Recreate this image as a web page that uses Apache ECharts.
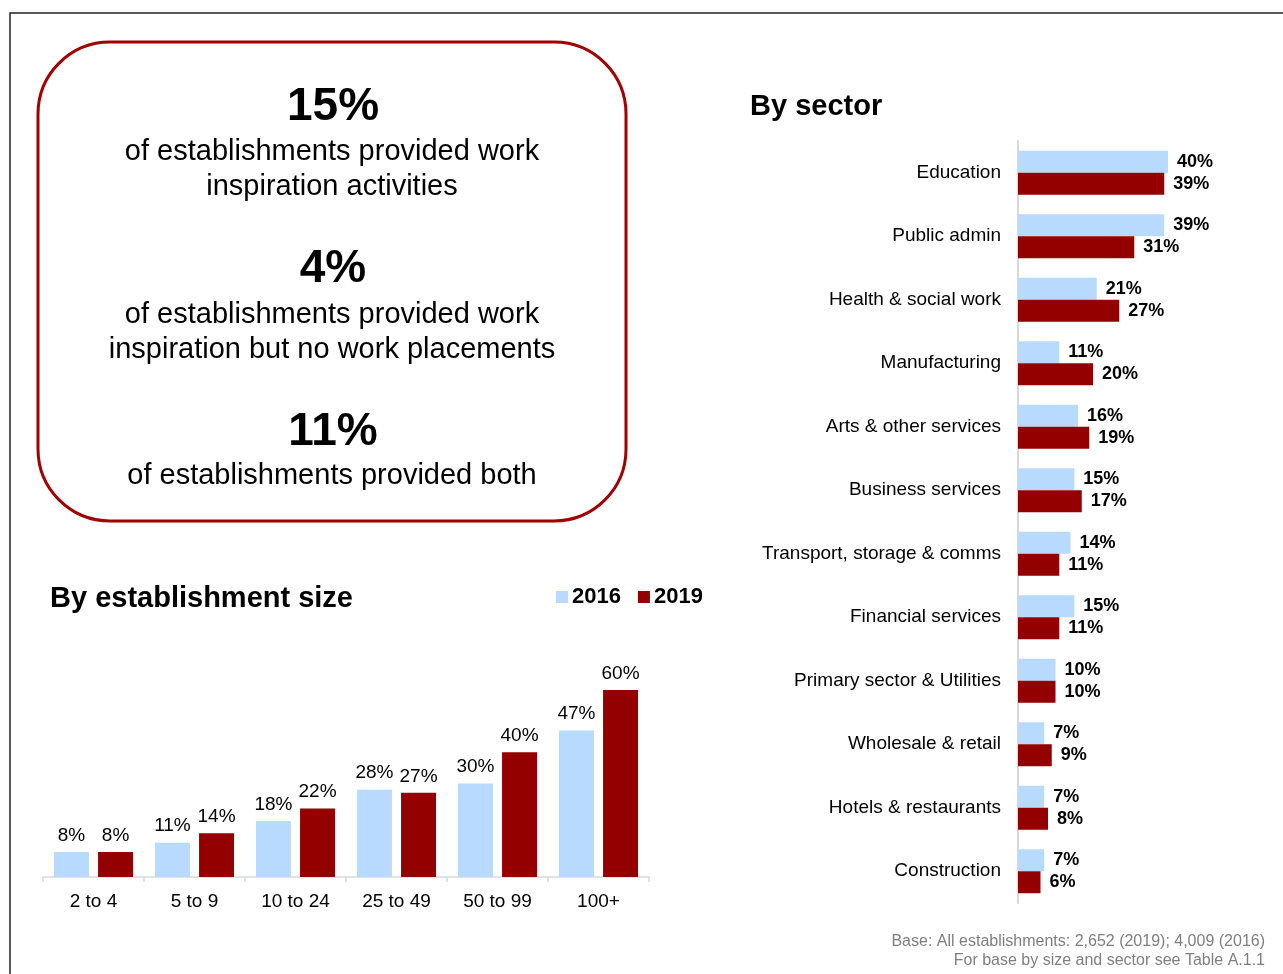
<!DOCTYPE html>
<html>
<head>
<meta charset="utf-8">
<script src="https://cdn.jsdelivr.net/npm/echarts@6/dist/echarts.min.js"></script>
<style>
html,body{margin:0;padding:0;background:#fff;}
#chart{width:1283px;height:974px;}
</style>
</head>
<body>
<div id="chart"></div>
<script>
// ---- Data ----
var sizeCategories = ['2 to 4', '5 to 9', '10 to 24', '25 to 49', '50 to 99', '100+'];
var size2016 = [8, 11, 18, 28, 30, 47];
var size2019 = [8, 14, 22, 27, 40, 60];

var sectorCategories = ['Education', 'Public admin', 'Health & social work', 'Manufacturing',
  'Arts & other services', 'Business services', 'Transport, storage & comms', 'Financial services',
  'Primary sector & Utilities', 'Wholesale & retail', 'Hotels & restaurants', 'Construction'];
var sector2016 = [40, 39, 21, 11, 16, 15, 14, 15, 10, 7, 7, 7];
var sector2019 = [39, 31, 27, 20, 19, 17, 11, 11, 10, 9, 8, 6];

var seriesNames = ['2016', '2019'];
var headlineValues = ['15%', '4%', '11%'];
var headlineTexts = [
  'of establishments provided work\ninspiration activities',
  'of establishments provided work\ninspiration but no work placements',
  'of establishments provided both'
];
var titleSize = 'By establishment size';
var titleSector = 'By sector';
var footnote = 'Base: All establishments: 2,652 (2019); 4,009 (2016)\nFor base by size and sector see Table A.1.1';

// ---- Style ----
var FONT = '"Liberation Sans", Arial, sans-serif';
var C16 = '#B8DAFF';
var C19 = '#940000';

var chart = echarts.init(document.getElementById('chart'), null, {renderer: 'canvas'});

var pct = function (p) { return p.value + '%'; };

var graphics = [
  {type: 'polyline', shape: {points: [[10, 1000], [10, 13], [1290, 13]]},
   style: {stroke: '#222', lineWidth: 1.5, fill: null}, silent: true},
  {type: 'rect', shape: {x: 38, y: 42, width: 588, height: 479, r: 72},
   style: {stroke: '#A00000', lineWidth: 3, fill: null}, silent: true}
];
var headY = [107, 269, 432];
var bodyY = [169, 332, 476];
for (var i = 0; i < 3; i++) {
  graphics.push({type: 'text', x: 333, y: headY[i], silent: true,
    style: {text: headlineValues[i], font: 'bold 46px ' + FONT, fill: '#000', align: 'center', verticalAlign: 'middle'}});
  graphics.push({type: 'text', x: 332, y: bodyY[i], silent: true,
    style: {text: headlineTexts[i], font: '29px ' + FONT, fill: '#000', align: 'center', verticalAlign: 'middle', lineHeight: 35}});
}
graphics.push({type: 'text', x: 50, y: 599, silent: true,
  style: {text: titleSize, font: 'bold 29px ' + FONT, fill: '#000', verticalAlign: 'middle'}});
graphics.push({type: 'text', x: 750, y: 107, silent: true,
  style: {text: titleSector, font: 'bold 29px ' + FONT, fill: '#000', verticalAlign: 'middle'}});
graphics.push({type: 'text', x: 1265, y: 951, silent: true,
  style: {text: footnote, font: '16px ' + FONT, fill: '#7F7F7F', align: 'right', verticalAlign: 'middle', lineHeight: 19}});

var option = {
  backgroundColor: '#fff',
  animation: false,
  textStyle: {fontFamily: FONT},
  graphic: graphics,
  legend: {
    data: seriesNames,
    left: 551, top: 581,
    itemWidth: 12, itemHeight: 12, itemGap: 17,
    icon: 'rect',
    textStyle: {fontFamily: FONT, fontSize: 22, fontWeight: 'bold', color: '#000', padding: [0, 0, 0, -1]},
    selectedMode: false
  },
  grid: [
    {left: 43, right: 634, top: 690, bottom: 97, containLabel: false},
    {left: 1018, right: 115, top: 141, height: 762, containLabel: false}
  ],
  xAxis: [
    {type: 'category', gridIndex: 0, data: sizeCategories,
     axisLine: {lineStyle: {color: '#D9D9D9', width: 1.5}},
     axisTick: {show: true, length: 5, lineStyle: {color: '#D9D9D9', width: 1.5}},
     axisLabel: {fontFamily: FONT, fontSize: 19, color: '#000', margin: 15}},
    {type: 'value', gridIndex: 1, min: 0, max: 40, show: false}
  ],
  yAxis: [
    {type: 'value', gridIndex: 0, min: 0, max: 60, show: false},
    {type: 'category', gridIndex: 1, data: sectorCategories, inverse: true,
     axisLine: {show: true, lineStyle: {color: '#D9D9D9', width: 2}},
     axisTick: {show: false},
     axisLabel: {fontFamily: FONT, fontSize: 19, color: '#000', margin: 17}}
  ],
  series: [
    {name: seriesNames[0], type: 'bar', xAxisIndex: 0, yAxisIndex: 0, data: size2016,
     barWidth: 35, barGap: '26%', itemStyle: {color: C16},
     label: {show: true, position: 'top', distance: 7, formatter: pct,
       fontFamily: FONT, fontSize: 19, color: '#000'}},
    {name: seriesNames[1], type: 'bar', xAxisIndex: 0, yAxisIndex: 0, data: size2019,
     barWidth: 35, barGap: '26%', itemStyle: {color: C19},
     label: {show: true, position: 'top', distance: 7, formatter: pct,
       fontFamily: FONT, fontSize: 19, color: '#000'}},
    {name: seriesNames[0], type: 'bar', xAxisIndex: 1, yAxisIndex: 1, data: sector2016,
     barWidth: 22, barGap: '0%', itemStyle: {color: C16},
     label: {show: true, position: 'right', distance: 9, formatter: pct,
       fontFamily: FONT, fontSize: 18, fontWeight: 'bold', color: '#000'}},
    {name: seriesNames[1], type: 'bar', xAxisIndex: 1, yAxisIndex: 1, data: sector2019,
     barWidth: 22, barGap: '0%', itemStyle: {color: C19},
     label: {show: true, position: 'right', distance: 9, formatter: pct,
       fontFamily: FONT, fontSize: 18, fontWeight: 'bold', color: '#000'}}
  ]
};
chart.setOption(option);
</script>
</body>
</html>
